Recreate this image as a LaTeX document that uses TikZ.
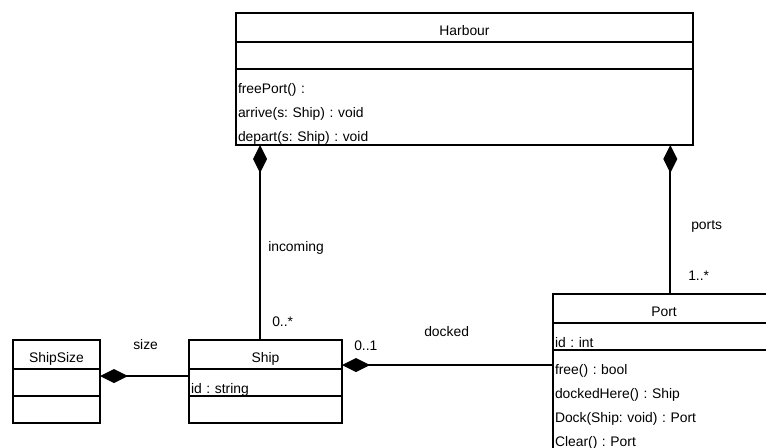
\documentclass[tikz,border=0pt]{standalone}
\usepackage{fontspec}
\setmainfont{Liberation Sans}
\frenchspacing
\usetikzlibrary{arrows.meta, positioning}

\begin{document}
\begin{tikzpicture}[
  x=0.75pt, y=-0.75pt,
  every node/.style={font=\fontsize{10.4}{18}\selectfont},
  cname/.style={draw, line width=1.4pt, fill=white, align=center, text width=#1, outer sep=0pt,
                inner xsep=1.5pt, inner ysep=0pt, text height=16.5pt, text depth=5.25pt},
  cpart/.style={draw, line width=1.4pt, fill=white, align=left, text width=#1, outer sep=0pt,
                inner xsep=1.5pt, inner ysep=0pt, text height=18pt, text depth=2.25pt},
  role/.style={anchor=base west, inner sep=0pt},
  compo/.style={{Diamond[length=21pt, width=10.5pt]}-, line width=1.4pt},
  node distance=0pt
]
\useasboundingbox (0,0) rectangle (766,447);
\clip (0,0) rectangle (766,447);

% classes
\node[cname=339.75pt, anchor=north west] (harbour) at (236,13) {Harbour};
\node[cpart=339.75pt, below=of harbour] (harbattr) {};
\node[cpart=339.75pt, below=of harbattr, text depth=39pt] (harbops) {freePort() :\\
arrive(s: Ship) : void\\
depart(s: Ship) : void};

\node[cname=62.25pt, anchor=north west] (shipsize) at (13,340) {ShipSize};
\node[cpart=62.25pt, below=of shipsize] (sizeattr) {};
\node[cpart=62.25pt, below=of sizeattr] (sizeops) {};

\node[cname=111.75pt, anchor=north west] (ship) at (189,340) {Ship};
\node[cpart=111.75pt, below=of ship] (shipattr) {id : string};
\node[cpart=111.75pt, below=of shipattr] (shipops) {};

\node[cname=163.5pt, anchor=north west] (port) at (553,294) {Port};
\node[cpart=163.5pt, below=of port] (portattr) {id : int};
\node[cpart=163.5pt, below=of portattr, text depth=79.5pt] (portops) {free() : bool\\
dockedHere() : Ship\\
Dock(Ship: void) : Port\\
Clear() : Port};

% compositions
\coordinate (in-top) at ([xshift=18pt]harbops.south west);
\coordinate (ports-top) at ([xshift=-17pt]harbops.south east);
\coordinate (size-end) at ([yshift=-5.25pt]sizeattr.north east);
\coordinate (dock-end) at ([yshift=3pt]shipattr.north east);
\draw[compo] (in-top) -- (in-top |- ship.north);
\draw[compo] (ports-top) -- (ports-top |- port.north);
\draw[compo] (size-end) -- (size-end -| ship.west);
\draw[compo] (dock-end) -- (dock-end -| port.west);

% roles and multiplicities
\node[role] (incoming) at (268,251) {incoming};
\node[role] (in-mult) at (272,326) {0..*};
\node[role] (size) at (133,349) {size};
\node[role] (dock-mult) at (354,350) {0..1};
\node[role] (docked) at (424,336) {docked};
\node[role] (ports) at (691,229) {ports};
\node[role] (ports-mult) at (688,280) {1..*};
\end{tikzpicture}
\end{document}
